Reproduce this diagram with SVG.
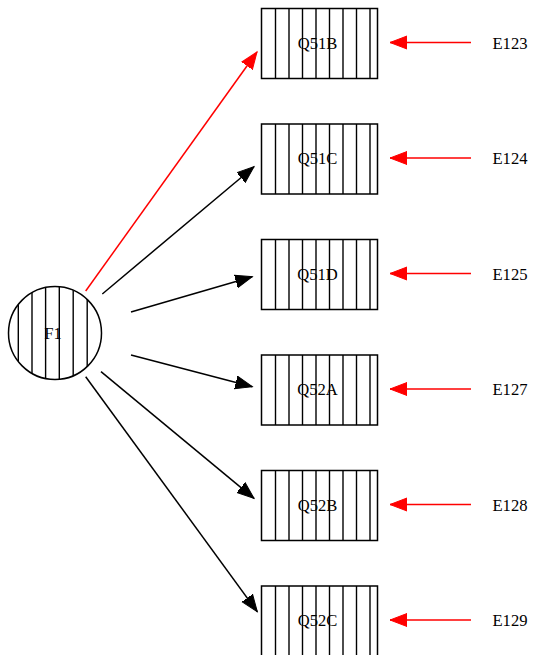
<svg xmlns="http://www.w3.org/2000/svg" xmlns:xlink="http://www.w3.org/1999/xlink" width="534" height="662" viewBox="0 0 534 662">
<style>
.box{fill:#fff;stroke:#000;stroke-width:1.5}
.st{stroke:#000;stroke-width:1.4}
.lbl{font-family:"Liberation Serif","Times New Roman",serif;font-size:16.6px;fill:#000;text-anchor:middle}
.blk{stroke:#000;stroke-width:1.5;fill:none}
.red{stroke:#f00;stroke-width:1.5;fill:none}
</style>
<defs>
<marker id="ab" markerUnits="userSpaceOnUse" markerWidth="19" markerHeight="16" viewBox="0 -8 19 16" refX="17" refY="0" orient="auto"><path d="M0,-6.5 L17,0 L0,6.5 z" fill="#000" stroke="#000"/></marker>
<marker id="ar" markerUnits="userSpaceOnUse" markerWidth="19" markerHeight="16" viewBox="0 -8 19 16" refX="17" refY="0" orient="auto"><path d="M0,-6.5 L17,0 L0,6.5 z" fill="#f00" stroke="#f00"/></marker>
<g id="stripes">
<line class="st" x1="14" y1="0" x2="14" y2="70"/>
<line class="st" x1="27.5" y1="0" x2="27.5" y2="70"/>
<line class="st" x1="41" y1="0" x2="41" y2="70"/>
<line class="st" x1="54.5" y1="0" x2="54.5" y2="70"/>
<line class="st" x1="68" y1="0" x2="68" y2="70"/>
<line class="st" x1="81.5" y1="0" x2="81.5" y2="70"/>
<line class="st" x1="95" y1="0" x2="95" y2="70"/>
<line class="st" x1="108.5" y1="0" x2="108.5" y2="70"/>
</g>
<clipPath id="cc"><circle cx="55" cy="333" r="46.5"/></clipPath>
<clipPath id="cut"><rect x="0" y="0" width="534" height="655"/></clipPath>
</defs>

<g id="F1">
<circle cx="55" cy="333" r="46.5" fill="#fff"/>
<g clip-path="url(#cc)">
<line class="st" x1="18.3" y1="280" x2="18.3" y2="390"/>
<line class="st" x1="32" y1="280" x2="32" y2="390"/>
<line class="st" x1="45.6" y1="280" x2="45.6" y2="390"/>
<line class="st" x1="59.3" y1="280" x2="59.3" y2="390"/>
<line class="st" x1="73.2" y1="280" x2="73.2" y2="390"/>
<line class="st" x1="87.2" y1="280" x2="87.2" y2="390"/>
</g>
<circle cx="55" cy="333" r="46.5" fill="none" stroke="#000" stroke-width="1.5"/>
<text class="lbl" x="53" y="338.5">F1</text>
</g>

<g id="Q51B"><rect class="box" x="261.5" y="8.5" width="116" height="70"/><use xlink:href="#stripes" x="261.5" y="8.5"/><text class="lbl" x="317.5" y="48.5">Q51B</text></g>
<g id="Q51C"><rect class="box" x="261.5" y="124" width="116" height="70"/><use xlink:href="#stripes" x="261.5" y="124"/><text class="lbl" x="317.5" y="164">Q51C</text></g>
<g id="Q51D"><rect class="box" x="261.5" y="239.5" width="116" height="70"/><use xlink:href="#stripes" x="261.5" y="239.5"/><text class="lbl" x="317.5" y="279.5">Q51D</text></g>
<g id="Q52A"><rect class="box" x="261.5" y="355" width="116" height="70"/><use xlink:href="#stripes" x="261.5" y="355"/><text class="lbl" x="317.5" y="395">Q52A</text></g>
<g id="Q52B"><rect class="box" x="261.5" y="470.5" width="116" height="70"/><use xlink:href="#stripes" x="261.5" y="470.5"/><text class="lbl" x="317.5" y="510.5">Q52B</text></g>
<g id="Q52C" clip-path="url(#cut)"><rect class="box" x="261.5" y="586" width="116" height="70"/><use xlink:href="#stripes" x="261.5" y="586"/><text class="lbl" x="317.5" y="626">Q52C</text></g>

<g id="E123"><text class="lbl" x="510" y="48.5">E123</text></g>
<g id="E124"><text class="lbl" x="510" y="164">E124</text></g>
<g id="E125"><text class="lbl" x="510" y="279.5">E125</text></g>
<g id="E127"><text class="lbl" x="510" y="395">E127</text></g>
<g id="E128"><text class="lbl" x="510" y="510.5">E128</text></g>
<g id="E129"><text class="lbl" x="510" y="626">E129</text></g>

<g id="connectors">
<line class="red" x1="85.7" y1="291" x2="257" y2="52" marker-end="url(#ar)"/>
<line class="blk" x1="102.3" y1="294" x2="254" y2="166.7" marker-end="url(#ab)"/>
<line class="blk" x1="131" y1="312" x2="252.3" y2="276.7" marker-end="url(#ab)"/>
<line class="blk" x1="131" y1="355" x2="252.3" y2="386.7" marker-end="url(#ab)"/>
<line class="blk" x1="101" y1="371.7" x2="254" y2="498.3" marker-end="url(#ab)"/>
<line class="blk" x1="85.7" y1="376.7" x2="257.3" y2="611.7" marker-end="url(#ab)"/>
<line class="red" x1="471" y1="42.5" x2="390" y2="42.5" marker-end="url(#ar)"/>
<line class="red" x1="471" y1="158" x2="390" y2="158" marker-end="url(#ar)"/>
<line class="red" x1="471" y1="273.5" x2="390" y2="273.5" marker-end="url(#ar)"/>
<line class="red" x1="471" y1="389" x2="390" y2="389" marker-end="url(#ar)"/>
<line class="red" x1="471" y1="504.5" x2="390" y2="504.5" marker-end="url(#ar)"/>
<line class="red" x1="471" y1="620" x2="390" y2="620" marker-end="url(#ar)"/>
</g>
</svg>
